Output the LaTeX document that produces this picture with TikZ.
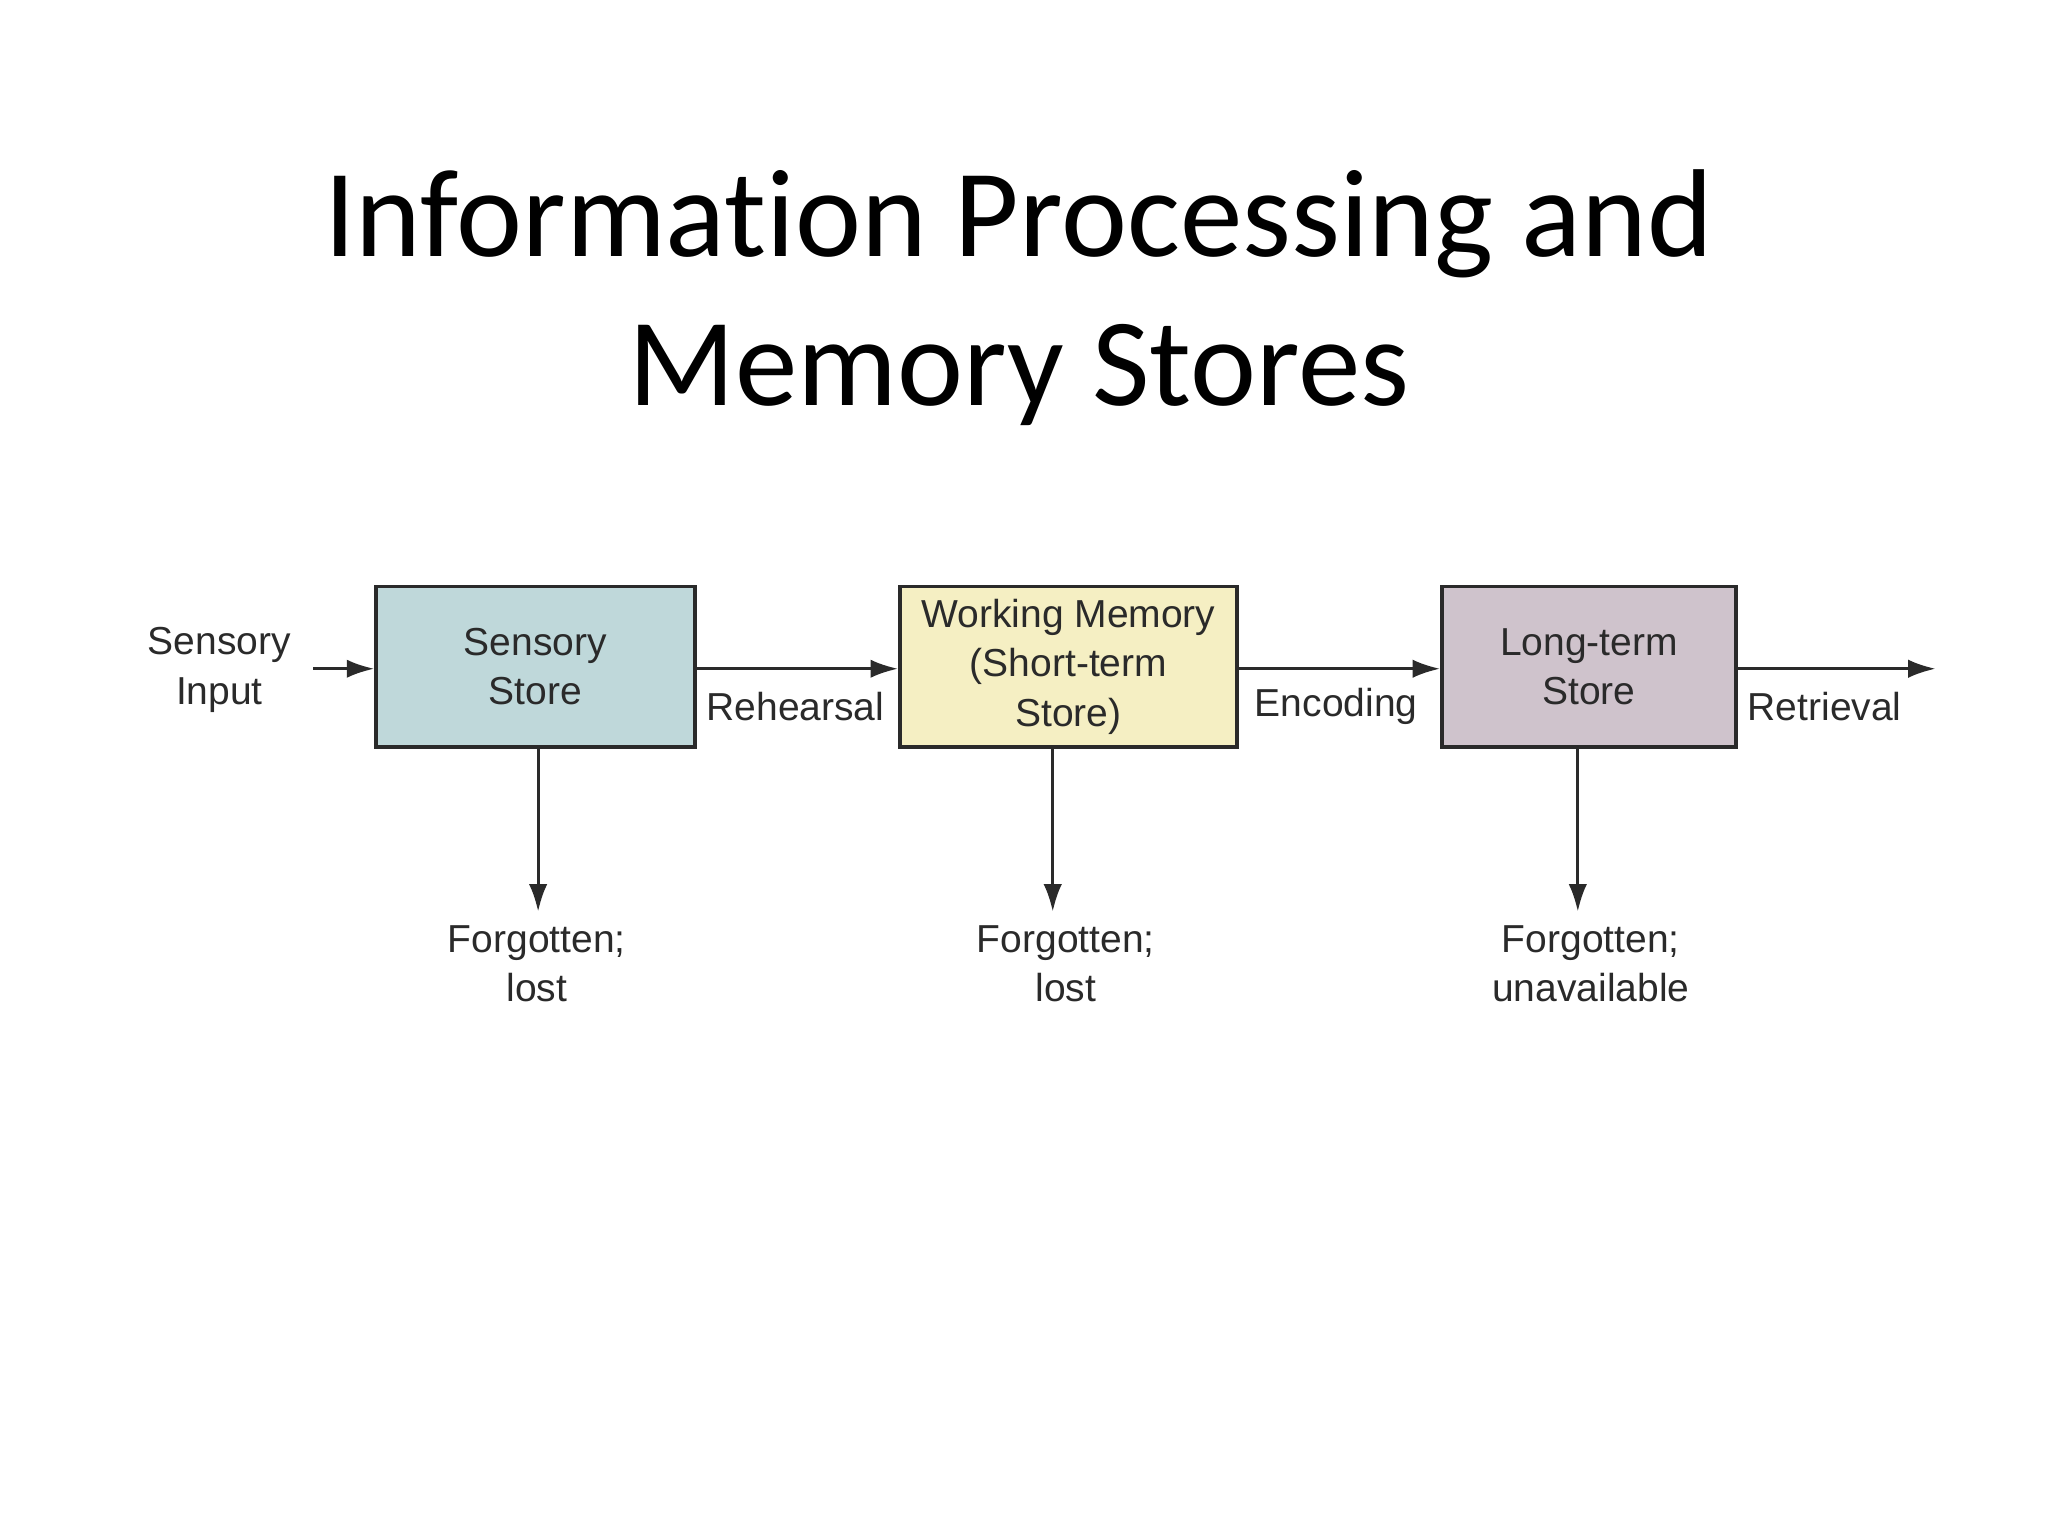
\documentclass[tikz,border=0pt]{standalone}
\usepackage{fontspec}
\setmainfont{Liberation Sans}
\newfontfamily\titlefont[Ligatures=NoCommon]{Carlito}
\usetikzlibrary{arrows.meta}
\definecolor{cA}{HTML}{BFD8DA}
\definecolor{cB}{HTML}{F5EFC3}
\definecolor{cC}{HTML}{CFC3CC}
\definecolor{ink}{HTML}{2A2A2A}
\begin{document}
\begin{tikzpicture}[x=0.02cm,y=-0.02cm,
  box/.style={draw=ink,line width=1.6pt,inner sep=0pt},
  lbl/.style={font=\fontsize{17}{21.6}\selectfont,text=ink,align=center},
  arr/.style={draw=ink,line width=1.3pt,-{Latex[length=12pt,width=8pt]}}]
\useasboundingbox (0,0) rectangle (1568,1176);
\node[font=\titlefont\fontsize{54.5}{65}\selectfont,align=center] (title) at (780,228) {Information Processing and\\Memory Stores};
\node[box,fill=cA,minimum width=244*0.02cm,minimum height=123*0.02cm] (s) at (410,510.5) {};
\node[lbl] at (s) {Sensory\\Store};
\node[box,fill=cB,minimum width=258*0.02cm,minimum height=123*0.02cm] (w) at (818,510.5) {};
\node[lbl] at (w) {Working Memory\\(Short-term\\Store)};
\node[box,fill=cC,minimum width=225*0.02cm,minimum height=123*0.02cm] (l) at (1216.5,510.5) {};
\node[lbl] at (l) {Long-term\\Store};
\node[lbl] (in) at (168,513) {Sensory\\Input};
\coordinate (out) at (1482,512);
\draw[arr] (240,512) -- (s.west|-0,512);
\draw[arr] (s.east|-0,512) -- (w.west|-0,512);
\draw[arr] (w.east|-0,512) -- (l.west|-0,512);
\draw[arr] (l.east|-0,512) -- (out);
\node[lbl] (reh) at (609,541) {Rehearsal};
\node[lbl] (enc) at (1023,541) {Encoding};
\node[lbl] (ret) at (1397,541) {Retrieval};
\node[lbl] (f1) at (411,738) {Forgotten;\\lost};
\node[lbl] (f2) at (816,738) {Forgotten;\\lost};
\node[lbl] (f3) at (1218,738) {Forgotten;\\unavailable};
\draw[arr] (412,572) -- (412,698);
\draw[arr] (806,572) -- (806,698);
\draw[arr] (1208,572) -- (1208,698);
\end{tikzpicture}
\end{document}
